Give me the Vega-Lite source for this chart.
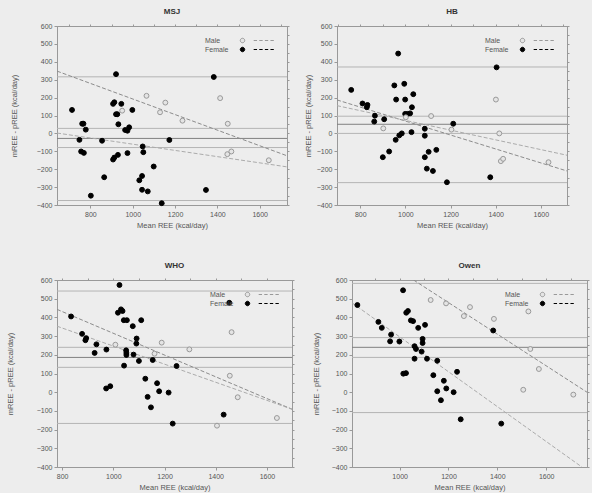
{
"$schema": "https://vega.github.io/schema/vega-lite/v6.json",
"background": "#ededed",
"padding": {"left": 5, "top": 7, "right": 2, "bottom": 2},
"datasets": {
"pts": [
{"panel":"MSJ","sex":"Female","mree":713,"diff":131},{"panel":"MSJ","sex":"Female","mree":921,"diff":331},{"panel":"MSJ","sex":"Female","mree":1383,"diff":315},{"panel":"MSJ","sex":"Female","mree":907,"diff":165},{"panel":"MSJ","sex":"Female","mree":913,"diff":174},{"panel":"MSJ","sex":"Female","mree":946,"diff":165},{"panel":"MSJ","sex":"Female","mree":998,"diff":131},{"panel":"MSJ","sex":"Female","mree":921,"diff":107},{"panel":"MSJ","sex":"Female","mree":927,"diff":107},{"panel":"MSJ","sex":"Female","mree":761,"diff":54},{"panel":"MSJ","sex":"Female","mree":767,"diff":54},{"panel":"MSJ","sex":"Female","mree":778,"diff":21},{"panel":"MSJ","sex":"Female","mree":932,"diff":51},{"panel":"MSJ","sex":"Female","mree":964,"diff":19},{"panel":"MSJ","sex":"Female","mree":975,"diff":15},{"panel":"MSJ","sex":"Female","mree":983,"diff":34},{"panel":"MSJ","sex":"Female","mree":748,"diff":-36},{"panel":"MSJ","sex":"Female","mree":855,"diff":-41},{"panel":"MSJ","sex":"Female","mree":1173,"diff":-37},{"panel":"MSJ","sex":"Female","mree":1047,"diff":-73},{"panel":"MSJ","sex":"Female","mree":756,"diff":-101},{"panel":"MSJ","sex":"Female","mree":769,"diff":-109},{"panel":"MSJ","sex":"Female","mree":930,"diff":-120},{"panel":"MSJ","sex":"Female","mree":975,"diff":-110},{"panel":"MSJ","sex":"Female","mree":1050,"diff":-105},{"panel":"MSJ","sex":"Female","mree":913,"diff":-135},{"panel":"MSJ","sex":"Female","mree":907,"diff":-146},{"panel":"MSJ","sex":"Female","mree":1099,"diff":-185},{"panel":"MSJ","sex":"Female","mree":865,"diff":-245},{"panel":"MSJ","sex":"Female","mree":1044,"diff":-238},{"panel":"MSJ","sex":"Female","mree":1031,"diff":-262},{"panel":"MSJ","sex":"Female","mree":1044,"diff":-315},{"panel":"MSJ","sex":"Female","mree":1071,"diff":-324},{"panel":"MSJ","sex":"Female","mree":1346,"diff":-316},{"panel":"MSJ","sex":"Female","mree":802,"diff":-348},{"panel":"MSJ","sex":"Female","mree":1137,"diff":-390},
{"panel":"MSJ","sex":"Male","mree":1065,"diff":210},{"panel":"MSJ","sex":"Male","mree":1154,"diff":172},{"panel":"MSJ","sex":"Male","mree":950,"diff":127},{"panel":"MSJ","sex":"Male","mree":1129,"diff":118},{"panel":"MSJ","sex":"Male","mree":1235,"diff":71},{"panel":"MSJ","sex":"Male","mree":1413,"diff":197},{"panel":"MSJ","sex":"Male","mree":1449,"diff":54},{"panel":"MSJ","sex":"Male","mree":1447,"diff":-116},{"panel":"MSJ","sex":"Male","mree":1466,"diff":-101},{"panel":"MSJ","sex":"Male","mree":1643,"diff":-150},
{"panel":"HB","sex":"Female","mree":760,"diff":243},{"panel":"HB","sex":"Female","mree":968,"diff":446},{"panel":"HB","sex":"Female","mree":951,"diff":268},{"panel":"HB","sex":"Female","mree":995,"diff":277},{"panel":"HB","sex":"Female","mree":1035,"diff":219},{"panel":"HB","sex":"Female","mree":959,"diff":189},{"panel":"HB","sex":"Female","mree":999,"diff":189},{"panel":"HB","sex":"Female","mree":810,"diff":167},{"panel":"HB","sex":"Female","mree":832,"diff":159},{"panel":"HB","sex":"Female","mree":829,"diff":146},{"panel":"HB","sex":"Female","mree":1029,"diff":146},{"panel":"HB","sex":"Female","mree":999,"diff":109},{"panel":"HB","sex":"Female","mree":1010,"diff":109},{"panel":"HB","sex":"Female","mree":1021,"diff":112},{"panel":"HB","sex":"Female","mree":865,"diff":99},{"panel":"HB","sex":"Female","mree":906,"diff":79},{"panel":"HB","sex":"Female","mree":862,"diff":66},{"panel":"HB","sex":"Female","mree":1404,"diff":369},{"panel":"HB","sex":"Female","mree":1212,"diff":54},{"panel":"HB","sex":"Female","mree":1086,"diff":26},{"panel":"HB","sex":"Female","mree":1027,"diff":7},{"panel":"HB","sex":"Female","mree":984,"diff":0},{"panel":"HB","sex":"Female","mree":973,"diff":-11},{"panel":"HB","sex":"Female","mree":1086,"diff":-13},{"panel":"HB","sex":"Female","mree":957,"diff":-36},{"panel":"HB","sex":"Female","mree":1137,"diff":-92},{"panel":"HB","sex":"Female","mree":1103,"diff":-103},{"panel":"HB","sex":"Female","mree":928,"diff":-101},{"panel":"HB","sex":"Female","mree":900,"diff":-133},{"panel":"HB","sex":"Female","mree":1086,"diff":-133},{"panel":"HB","sex":"Female","mree":1095,"diff":-197},{"panel":"HB","sex":"Female","mree":1122,"diff":-210},{"panel":"HB","sex":"Female","mree":1184,"diff":-273},{"panel":"HB","sex":"Female","mree":1376,"diff":-245},
{"panel":"HB","sex":"Male","mree":902,"diff":28},{"panel":"HB","sex":"Male","mree":1002,"diff":90},{"panel":"HB","sex":"Male","mree":1114,"diff":97},{"panel":"HB","sex":"Male","mree":1204,"diff":21},{"panel":"HB","sex":"Male","mree":1401,"diff":189},{"panel":"HB","sex":"Male","mree":1416,"diff":0},{"panel":"HB","sex":"Male","mree":1423,"diff":-155},{"panel":"HB","sex":"Male","mree":1433,"diff":-142},{"panel":"HB","sex":"Male","mree":1634,"diff":-161},
{"panel":"WHO","sex":"Female","mree":1024,"diff":573},{"panel":"WHO","sex":"Female","mree":1453,"diff":478},{"panel":"WHO","sex":"Female","mree":835,"diff":405},{"panel":"WHO","sex":"Female","mree":1018,"diff":425},{"panel":"WHO","sex":"Female","mree":1030,"diff":443},{"panel":"WHO","sex":"Female","mree":1036,"diff":434},{"panel":"WHO","sex":"Female","mree":1041,"diff":385},{"panel":"WHO","sex":"Female","mree":1053,"diff":385},{"panel":"WHO","sex":"Female","mree":1109,"diff":385},{"panel":"WHO","sex":"Female","mree":1076,"diff":353},{"panel":"WHO","sex":"Female","mree":878,"diff":312},{"panel":"WHO","sex":"Female","mree":894,"diff":289},{"panel":"WHO","sex":"Female","mree":891,"diff":278},{"panel":"WHO","sex":"Female","mree":934,"diff":256},{"panel":"WHO","sex":"Female","mree":1091,"diff":287},{"panel":"WHO","sex":"Female","mree":1090,"diff":260},{"panel":"WHO","sex":"Female","mree":973,"diff":228},{"panel":"WHO","sex":"Female","mree":1050,"diff":224},{"panel":"WHO","sex":"Female","mree":1051,"diff":210},{"panel":"WHO","sex":"Female","mree":1051,"diff":199},{"panel":"WHO","sex":"Female","mree":1079,"diff":201},{"panel":"WHO","sex":"Female","mree":927,"diff":210},{"panel":"WHO","sex":"Female","mree":1100,"diff":167},{"panel":"WHO","sex":"Female","mree":1154,"diff":172},{"panel":"WHO","sex":"Female","mree":1042,"diff":142},{"panel":"WHO","sex":"Female","mree":1247,"diff":140},{"panel":"WHO","sex":"Female","mree":1125,"diff":72},{"panel":"WHO","sex":"Female","mree":1171,"diff":48},{"panel":"WHO","sex":"Female","mree":972,"diff":20},{"panel":"WHO","sex":"Female","mree":988,"diff":32},{"panel":"WHO","sex":"Female","mree":1179,"diff":5},{"panel":"WHO","sex":"Female","mree":1216,"diff":-2},{"panel":"WHO","sex":"Female","mree":1134,"diff":-25},{"panel":"WHO","sex":"Female","mree":1147,"diff":-81},{"panel":"WHO","sex":"Female","mree":1431,"diff":-120},{"panel":"WHO","sex":"Female","mree":1232,"diff":-168},
{"panel":"WHO","sex":"Male","mree":1008,"diff":254},{"panel":"WHO","sex":"Male","mree":1189,"diff":265},{"panel":"WHO","sex":"Male","mree":1297,"diff":229},{"panel":"WHO","sex":"Male","mree":1161,"diff":206},{"panel":"WHO","sex":"Male","mree":1462,"diff":321},{"panel":"WHO","sex":"Male","mree":1455,"diff":88},{"panel":"WHO","sex":"Male","mree":1486,"diff":-27},{"panel":"WHO","sex":"Male","mree":1405,"diff":-179},{"panel":"WHO","sex":"Male","mree":1639,"diff":-138},
{"panel":"Owen","sex":"Female","mree":827,"diff":466},{"panel":"Owen","sex":"Female","mree":1014,"diff":545},{"panel":"Owen","sex":"Female","mree":913,"diff":376},{"panel":"Owen","sex":"Female","mree":927,"diff":344},{"panel":"Owen","sex":"Female","mree":965,"diff":308},{"panel":"Owen","sex":"Female","mree":961,"diff":272},{"panel":"Owen","sex":"Female","mree":999,"diff":271},{"panel":"Owen","sex":"Female","mree":1027,"diff":425},{"panel":"Owen","sex":"Female","mree":1034,"diff":434},{"panel":"Owen","sex":"Female","mree":1046,"diff":384},{"panel":"Owen","sex":"Female","mree":1055,"diff":380},{"panel":"Owen","sex":"Female","mree":1076,"diff":344},{"panel":"Owen","sex":"Female","mree":1104,"diff":360},{"panel":"Owen","sex":"Female","mree":1094,"diff":285},{"panel":"Owen","sex":"Female","mree":1094,"diff":263},{"panel":"Owen","sex":"Female","mree":1061,"diff":246},{"panel":"Owen","sex":"Female","mree":1067,"diff":231},{"panel":"Owen","sex":"Female","mree":1090,"diff":217},{"panel":"Owen","sex":"Female","mree":1061,"diff":179},{"panel":"Owen","sex":"Female","mree":1112,"diff":179},{"panel":"Owen","sex":"Female","mree":1154,"diff":168},{"panel":"Owen","sex":"Female","mree":1015,"diff":99},{"panel":"Owen","sex":"Female","mree":1026,"diff":102},{"panel":"Owen","sex":"Female","mree":1138,"diff":91},{"panel":"Owen","sex":"Female","mree":1235,"diff":109},{"panel":"Owen","sex":"Female","mree":1181,"diff":61},{"panel":"Owen","sex":"Female","mree":1191,"diff":20},{"panel":"Owen","sex":"Female","mree":1154,"diff":5},{"panel":"Owen","sex":"Female","mree":1221,"diff":0},{"panel":"Owen","sex":"Female","mree":1169,"diff":-43},{"panel":"Owen","sex":"Female","mree":1250,"diff":-145},{"panel":"Owen","sex":"Female","mree":1383,"diff":330},{"panel":"Owen","sex":"Female","mree":1416,"diff":-168},
{"panel":"Owen","sex":"Male","mree":1127,"diff":493},{"panel":"Owen","sex":"Male","mree":1190,"diff":475},{"panel":"Owen","sex":"Male","mree":1288,"diff":455},{"panel":"Owen","sex":"Male","mree":1263,"diff":407},{"panel":"Owen","sex":"Male","mree":1386,"diff":392},{"panel":"Owen","sex":"Male","mree":1527,"diff":432},{"panel":"Owen","sex":"Male","mree":1535,"diff":231},{"panel":"Owen","sex":"Male","mree":1570,"diff":124},{"panel":"Owen","sex":"Male","mree":1506,"diff":13},{"panel":"Owen","sex":"Male","mree":1711,"diff":-13}
],
"hl": [
{"panel":"MSJ","kind":"lim","v":316},{"panel":"MSJ","kind":"lim","v":28},{"panel":"MSJ","kind":"mean","v":-28},{"panel":"MSJ","kind":"lim","v":-79},{"panel":"MSJ","kind":"lim","v":-375},
{"panel":"HB","kind":"lim","v":371},{"panel":"HB","kind":"lim","v":96},{"panel":"HB","kind":"mean","v":51},{"panel":"HB","kind":"lim","v":0},{"panel":"HB","kind":"lim","v":-275},
{"panel":"WHO","kind":"lim","v":541},{"panel":"WHO","kind":"lim","v":240},{"panel":"WHO","kind":"mean","v":186},{"panel":"WHO","kind":"lim","v":133},{"panel":"WHO","kind":"lim","v":-167},
{"panel":"Owen","kind":"lim","v":582},{"panel":"Owen","kind":"lim","v":292},{"panel":"Owen","kind":"mean","v":240},{"panel":"Owen","kind":"lim","v":186},{"panel":"Owen","kind":"lim","v":-109}
],
"reg": [
{"panel":"MSJ","sex":"Male","mree":642,"diff":348},{"panel":"MSJ","sex":"Male","mree":1729,"diff":-125},
{"panel":"MSJ","sex":"Female","mree":642,"diff":2},{"panel":"MSJ","sex":"Female","mree":1729,"diff":-187},
{"panel":"HB","sex":"Male","mree":697,"diff":187},{"panel":"HB","sex":"Male","mree":1716,"diff":-210},
{"panel":"HB","sex":"Female","mree":697,"diff":155},{"panel":"HB","sex":"Female","mree":1716,"diff":-122},
{"panel":"WHO","sex":"Male","mree":780,"diff":443},{"panel":"WHO","sex":"Male","mree":1698,"diff":-91},
{"panel":"WHO","sex":"Female","mree":780,"diff":353},{"panel":"WHO","sex":"Female","mree":1698,"diff":-91},
{"panel":"Owen","sex":"Male","mree":1057,"diff":600},{"panel":"Owen","sex":"Male","mree":1767,"diff":0},
{"panel":"Owen","sex":"Female","mree":805,"diff":478},{"panel":"Owen","sex":"Female","mree":1746,"diff":-400}
]
},
"spacing": 32,
"resolve": {"scale": {"x": "independent", "y": "independent", "color": "independent", "fill": "independent", "stroke": "independent"}, "legend": {"fill": "independent", "stroke": "independent"}},
"vconcat": [
{"hconcat": [
{"title": "MSJ", "width": 230, "height": 179,
 "resolve": {"axis": {"x": "independent", "y": "independent"}, "scale": {"color": "independent"}},
 "layer": [
  {"data": {"name": "hl"}, "transform": [{"filter": "datum.panel === 'MSJ'"}], "mark": {"type": "rule", "strokeWidth": 1},
   "encoding": {"y": {"field": "v", "type": "quantitative", "scale": {"domain": [-400, 600], "nice": false}, "axis": {"orient": "right", "labels": false, "title": null, "values": [-400,-350,-300,-250,-200,-150,-100,-50,0,50,100,150,200,250,300,350,400,450,500,550,600], "tickSize": 2}},
    "color": {"field": "kind", "type": "nominal", "scale": {"domain": ["mean", "lim"], "range": ["#808080", "#b4b4b4"]}, "legend": null}}},
  {"data": {"name": "reg"}, "transform": [{"filter": "datum.panel === 'MSJ'"}], "mark": {"type": "line", "clip": true, "strokeDash": [4, 2], "strokeWidth": 1},
   "encoding": {"x": {"field": "mree", "type": "quantitative", "scale": {"domain": [642, 1729], "nice": false, "zero": false}, "axis": {"orient": "top", "labels": false, "title": null, "values": [700,800,900,1000,1100,1200,1300,1400,1500,1600,1700], "tickSize": 2}},
    "y": {"field": "diff", "type": "quantitative", "axis": null},
    "color": {"field": "sex", "type": "nominal", "scale": {"domain": ["Male", "Female"], "range": ["#8c8c8c", "#ababab"]}, "legend": null}}},
  {"data": {"name": "pts"}, "transform": [{"filter": "datum.panel === 'MSJ'"}], "mark": {"type": "point", "filled": true, "size": 24, "strokeWidth": 1, "opacity": 1},
   "encoding": {"x": {"field": "mree", "type": "quantitative", "scale": {"domain": [642, 1729], "nice": false, "zero": false}, "axis": {"orient": "bottom", "title": "Mean REE (kcal/day)", "values": [800,1000,1200,1400,1600], "format": "d"}},
    "y": {"field": "diff", "type": "quantitative", "scale": {"domain": [-400, 600], "nice": false}, "axis": {"orient": "left", "title": "mREE - pREE (kcal/day)", "values": [-400,-300,-200,-100,0,100,200,300,400,500,600], "titlePadding": 18}},
    "fill": {"field": "sex", "type": "nominal", "scale": {"domain": ["Male", "Female"], "range": ["#e4e4e4", "#000000"]}, "legend": {"title": null}},
    "stroke": {"field": "sex", "type": "nominal", "scale": {"domain": ["Male", "Female"], "range": ["#999999", "#000000"]}, "legend": {"title": null}}}}
 ]},
{"title": "HB", "width": 230, "height": 179,
 "resolve": {"axis": {"x": "independent", "y": "independent"}, "scale": {"color": "independent"}},
 "layer": [
  {"data": {"name": "hl"}, "transform": [{"filter": "datum.panel === 'HB'"}], "mark": {"type": "rule", "strokeWidth": 1},
   "encoding": {"y": {"field": "v", "type": "quantitative", "scale": {"domain": [-400, 600], "nice": false}, "axis": {"orient": "right", "labels": false, "title": null, "values": [-400,-350,-300,-250,-200,-150,-100,-50,0,50,100,150,200,250,300,350,400,450,500,550,600], "tickSize": 2}},
    "color": {"field": "kind", "type": "nominal", "scale": {"domain": ["mean", "lim"], "range": ["#808080", "#b4b4b4"]}, "legend": null}}},
  {"data": {"name": "reg"}, "transform": [{"filter": "datum.panel === 'HB'"}], "mark": {"type": "line", "clip": true, "strokeDash": [4, 2], "strokeWidth": 1},
   "encoding": {"x": {"field": "mree", "type": "quantitative", "scale": {"domain": [697, 1716], "nice": false, "zero": false}, "axis": {"orient": "top", "labels": false, "title": null, "values": [700,800,900,1000,1100,1200,1300,1400,1500,1600,1700], "tickSize": 2}},
    "y": {"field": "diff", "type": "quantitative", "axis": null},
    "color": {"field": "sex", "type": "nominal", "scale": {"domain": ["Male", "Female"], "range": ["#8c8c8c", "#ababab"]}, "legend": null}}},
  {"data": {"name": "pts"}, "transform": [{"filter": "datum.panel === 'HB'"}], "mark": {"type": "point", "filled": true, "size": 24, "strokeWidth": 1, "opacity": 1},
   "encoding": {"x": {"field": "mree", "type": "quantitative", "scale": {"domain": [697, 1716], "nice": false, "zero": false}, "axis": {"orient": "bottom", "title": "Mean REE (kcal/day)", "values": [800,1000,1200,1400,1600], "format": "d"}},
    "y": {"field": "diff", "type": "quantitative", "scale": {"domain": [-400, 600], "nice": false}, "axis": {"orient": "left", "title": "mREE - pREE (kcal/day)", "values": [-400,-300,-200,-100,0,100,200,300,400,500,600], "titlePadding": 4}},
    "fill": {"field": "sex", "type": "nominal", "scale": {"domain": ["Male", "Female"], "range": ["#e4e4e4", "#000000"]}, "legend": {"title": null}},
    "stroke": {"field": "sex", "type": "nominal", "scale": {"domain": ["Male", "Female"], "range": ["#999999", "#000000"]}, "legend": {"title": null}}}}
 ]}
], "spacing": 13, "resolve": {"scale": {"x": "independent", "y": "independent", "color": "independent", "fill": "independent", "stroke": "independent"}, "legend": {"fill": "independent", "stroke": "independent"}}},
{"hconcat": [
{"title": "WHO", "width": 235, "height": 187,
 "resolve": {"axis": {"x": "independent", "y": "independent"}, "scale": {"color": "independent"}},
 "layer": [
  {"data": {"name": "hl"}, "transform": [{"filter": "datum.panel === 'WHO'"}], "mark": {"type": "rule", "strokeWidth": 1},
   "encoding": {"y": {"field": "v", "type": "quantitative", "scale": {"domain": [-400, 600], "nice": false}, "axis": {"orient": "right", "labels": false, "title": null, "values": [-400,-350,-300,-250,-200,-150,-100,-50,0,50,100,150,200,250,300,350,400,450,500,550,600], "tickSize": 2}},
    "color": {"field": "kind", "type": "nominal", "scale": {"domain": ["mean", "lim"], "range": ["#808080", "#b4b4b4"]}, "legend": null}}},
  {"data": {"name": "reg"}, "transform": [{"filter": "datum.panel === 'WHO'"}], "mark": {"type": "line", "clip": true, "strokeDash": [4, 2], "strokeWidth": 1},
   "encoding": {"x": {"field": "mree", "type": "quantitative", "scale": {"domain": [780, 1698], "nice": false, "zero": false}, "axis": {"orient": "top", "labels": false, "title": null, "values": [800,900,1000,1100,1200,1300,1400,1500,1600], "tickSize": 2}},
    "y": {"field": "diff", "type": "quantitative", "axis": null},
    "color": {"field": "sex", "type": "nominal", "scale": {"domain": ["Male", "Female"], "range": ["#8c8c8c", "#ababab"]}, "legend": null}}},
  {"data": {"name": "pts"}, "transform": [{"filter": "datum.panel === 'WHO'"}], "mark": {"type": "point", "filled": true, "size": 24, "strokeWidth": 1, "opacity": 1},
   "encoding": {"x": {"field": "mree", "type": "quantitative", "scale": {"domain": [780, 1698], "nice": false, "zero": false}, "axis": {"orient": "bottom", "title": "Mean REE (kcal/day)", "values": [800,1000,1200,1400,1600], "format": "d"}},
    "y": {"field": "diff", "type": "quantitative", "scale": {"domain": [-400, 600], "nice": false}, "axis": {"orient": "left", "title": "mREE - pREE (kcal/day)", "values": [-400,-300,-200,-100,0,100,200,300,400,500,600], "titlePadding": 22}},
    "fill": {"field": "sex", "type": "nominal", "scale": {"domain": ["Male", "Female"], "range": ["#e4e4e4", "#000000"]}, "legend": {"title": null}},
    "stroke": {"field": "sex", "type": "nominal", "scale": {"domain": ["Male", "Female"], "range": ["#999999", "#000000"]}, "legend": {"title": null}}}}
 ]},
{"title": "Owen", "width": 235, "height": 187,
 "resolve": {"axis": {"x": "independent", "y": "independent"}, "scale": {"color": "independent"}},
 "layer": [
  {"data": {"name": "hl"}, "transform": [{"filter": "datum.panel === 'Owen'"}], "mark": {"type": "rule", "strokeWidth": 1},
   "encoding": {"y": {"field": "v", "type": "quantitative", "scale": {"domain": [-400, 600], "nice": false}, "axis": {"orient": "right", "labels": false, "title": null, "values": [-400,-350,-300,-250,-200,-150,-100,-50,0,50,100,150,200,250,300,350,400,450,500,550,600], "tickSize": 2}},
    "color": {"field": "kind", "type": "nominal", "scale": {"domain": ["mean", "lim"], "range": ["#808080", "#b4b4b4"]}, "legend": null}}},
  {"data": {"name": "reg"}, "transform": [{"filter": "datum.panel === 'Owen'"}], "mark": {"type": "line", "clip": true, "strokeDash": [4, 2], "strokeWidth": 1},
   "encoding": {"x": {"field": "mree", "type": "quantitative", "scale": {"domain": [805, 1767], "nice": false, "zero": false}, "axis": {"orient": "top", "labels": false, "title": null, "values": [900,1000,1100,1200,1300,1400,1500,1600,1700], "tickSize": 2}},
    "y": {"field": "diff", "type": "quantitative", "axis": null},
    "color": {"field": "sex", "type": "nominal", "scale": {"domain": ["Male", "Female"], "range": ["#8c8c8c", "#ababab"]}, "legend": null}}},
  {"data": {"name": "pts"}, "transform": [{"filter": "datum.panel === 'Owen'"}], "mark": {"type": "point", "filled": true, "size": 24, "strokeWidth": 1, "opacity": 1},
   "encoding": {"x": {"field": "mree", "type": "quantitative", "scale": {"domain": [805, 1767], "nice": false, "zero": false}, "axis": {"orient": "bottom", "title": "Mean REE (kcal/day)", "values": [1000,1200,1400,1600], "format": "d"}},
    "y": {"field": "diff", "type": "quantitative", "scale": {"domain": [-400, 600], "nice": false}, "axis": {"orient": "left", "title": "mREE - pREE (kcal/day)", "values": [-400,-300,-200,-100,0,100,200,300,400,500,600], "titlePadding": 11}},
    "fill": {"field": "sex", "type": "nominal", "scale": {"domain": ["Male", "Female"], "range": ["#e4e4e4", "#000000"]}, "legend": {"title": null}},
    "stroke": {"field": "sex", "type": "nominal", "scale": {"domain": ["Male", "Female"], "range": ["#999999", "#000000"]}, "legend": {"title": null}}}}
 ]}
], "spacing": 16, "resolve": {"scale": {"x": "independent", "y": "independent", "color": "independent", "fill": "independent", "stroke": "independent"}, "legend": {"fill": "independent", "stroke": "independent"}}}
],
"config": {
 "font": "Liberation Sans",
 "view": {"stroke": "#999999", "strokeWidth": 1},
 "axis": {"labelFontSize": 7, "titleFontSize": 7.5, "titleFontWeight": "normal", "labelColor": "#555555", "titleColor": "#555555", "domainColor": "#999999", "tickColor": "#999999", "tickSize": 3, "grid": false, "labelPadding": 2},
 "title": {"fontSize": 8, "fontWeight": "bold", "color": "#333333", "offset": 6},
 "legend": {"orient": "top-right", "offset": 11, "labelFontSize": 7, "labelColor": "#555555", "rowPadding": 0, "padding": 0, "symbolSize": 20, "symbolStrokeWidth": 1, "labelOffset": -41, "labelAlign": "left",
  "symbolType": "M-1,0A1,1,0,1,1,1,0A1,1,0,1,1,-1,0Z M5,0L6.5,0M7.5,0L9,0M10,0L11.5,0M12.5,0L14,0"}
}
}
